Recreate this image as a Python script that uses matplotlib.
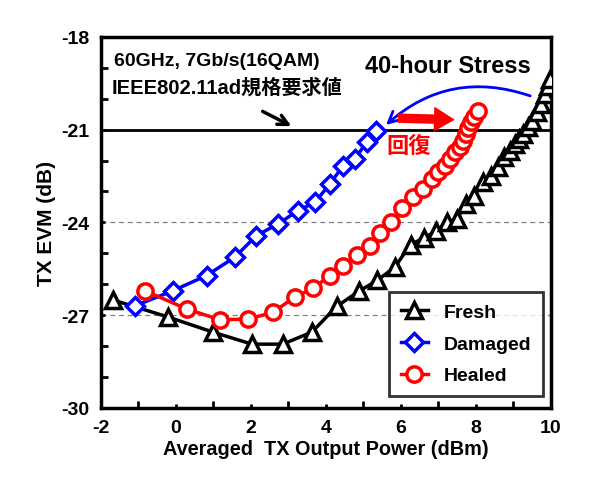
import numpy as np
import matplotlib.pyplot as plt
from matplotlib.patches import FancyArrowPatch
from matplotlib.ticker import MultipleLocator

plt.rcParams['font.family'] = ['Liberation Sans', 'Noto Sans CJK JP', 'DejaVu Sans']
plt.rcParams['font.weight'] = 'bold'
plt.rcParams['axes.unicode_minus'] = False

fresh_x = [-1.68, -0.21, 0.99, 2.03, 2.85, 3.63, 4.29, 4.88, 5.37, 5.84, 6.26, 6.62, 6.94, 7.24,
           7.50, 7.73, 7.95, 8.2, 8.4, 8.6, 8.75, 8.9, 9.04, 9.16, 9.27, 9.40, 9.50, 9.62, 9.75,
           9.84, 9.93, 9.97]
fresh_y = [-26.51, -27.06, -27.55, -27.94, -27.94, -27.55, -26.72, -26.23, -25.88, -25.45, -24.72,
           -24.50, -24.29, -24.0, -23.89, -23.40, -23.15, -22.70, -22.50, -22.2, -21.9, -21.7,
           -21.46, -21.3, -21.14, -20.92, -20.71, -20.44, -20.17, -19.84, -19.58, -19.36]

damaged_x = [-1.09, -0.07, 0.82, 1.57, 2.15, 2.73, 3.26, 3.71, 4.11, 4.46, 4.77, 5.09, 5.35]
damaged_y = [-26.70, -26.21, -25.72, -25.13, -24.43, -24.05, -23.62, -23.35, -22.76, -22.17,
             -21.95, -21.41, -21.03]

healed_x = [-0.83, 0.29, 1.17, 1.93, 2.59, 3.17, 3.66, 4.11, 4.46, 4.84, 5.17, 5.45, 5.75, 6.04,
            6.33, 6.59, 6.82, 7.0, 7.17, 7.31, 7.44, 7.57, 7.66, 7.75, 7.8, 7.86, 7.94, 8.06]
healed_y = [-26.21, -26.80, -27.15, -27.13, -26.91, -26.42, -26.13, -25.72, -25.40, -25.05, -24.78,
            -24.33, -24.0, -23.52, -23.19, -22.92, -22.60, -22.38, -22.17, -21.95, -21.73, -21.57,
            -21.36, -21.14, -20.94, -20.76, -20.60, -20.39]

spec_level = -21
grid_levels = [-24, -27]

fig = plt.figure(figsize=(6, 4.85), dpi=100)
ax = fig.add_axes([0.168, 0.157, 0.75, 0.765])

for g in grid_levels:
    ax.axhline(g, color='gray', lw=0.9, ls=(0, (4, 3)), zorder=1)
ax.axhline(spec_level, color='black', lw=2, zorder=1)

ax.plot(fresh_x, fresh_y, '-^', color='black', lw=2.5, ms=12, mfc='white', mec='black', mew=2.5,
        label='Fresh', zorder=3)
ax.plot(damaged_x, damaged_y, '-D', color='blue', lw=2.5, ms=9, mfc='white', mec='blue', mew=2.5,
        label='Damaged', zorder=3)
ax.plot(healed_x, healed_y, '-o', color='red', lw=2.5, ms=11, mfc='white', mec='red', mew=2.5,
        label='Healed', zorder=3)

ax.set_xlim(-2, 10)
ax.set_ylim(-30, -18)
ax.xaxis.set_major_locator(MultipleLocator(2))
ax.xaxis.set_minor_locator(MultipleLocator(1))
ax.yaxis.set_major_locator(MultipleLocator(3))
ax.yaxis.set_minor_locator(MultipleLocator(1))
ax.tick_params(which='both', direction='in', top=False, right=False, width=2)
ax.tick_params(which='major', length=3, labelsize=14, pad=8)
ax.tick_params(which='minor', length=5)
for s in ax.spines.values():
    s.set_linewidth(2.5)

ax.set_xlabel('Averaged  TX Output Power (dBm)', fontsize=14.3, fontweight='bold', labelpad=2)
ax.set_ylabel('TX EVM (dB)', fontsize=15, fontweight='bold')

ax.text(-1.65, -18.78, '60GHz, 7Gb/s(16QAM)', fontsize=14, fontweight='bold', va='center')
ax.text(-1.7, -19.62, 'IEEE802.11ad規格要求値', fontsize=14.5, fontweight='bold', va='center')
ax.annotate('', xy=(3.15, -20.93), xytext=(2.25, -20.37),
            arrowprops=dict(arrowstyle='->', color='black', lw=2.5, mutation_scale=18))
ax.text(7.25, -18.94, '40-hour Stress', fontsize=17, fontweight='bold', ha='center', va='center')
ax.add_patch(FancyArrowPatch((9.52, -19.94), (5.55, -20.91), connectionstyle='arc3,rad=0.3',
                             arrowstyle='->', color='blue', lw=2, mutation_scale=20, zorder=4))
ax.add_patch(FancyArrowPatch((5.92, -20.63), (7.44, -20.68),
                             arrowstyle='simple,tail_width=0.45,head_width=1.2,head_length=1',
                             color='red', lw=0, mutation_scale=15, shrinkA=0, shrinkB=0, zorder=4))
ax.text(6.2, -21.56, '回復', color='red', fontsize=16, fontweight='bold', ha='center', va='center')

leg = ax.legend(loc='lower right', fontsize=14, frameon=True, fancybox=False, edgecolor='black',
                handlelength=1.4, borderpad=0.6, labelspacing=0.72, borderaxespad=0,
                bbox_to_anchor=(0.982, 0.032))
leg.get_frame().set_linewidth(2)

fig.savefig('out.png', dpi=100)
